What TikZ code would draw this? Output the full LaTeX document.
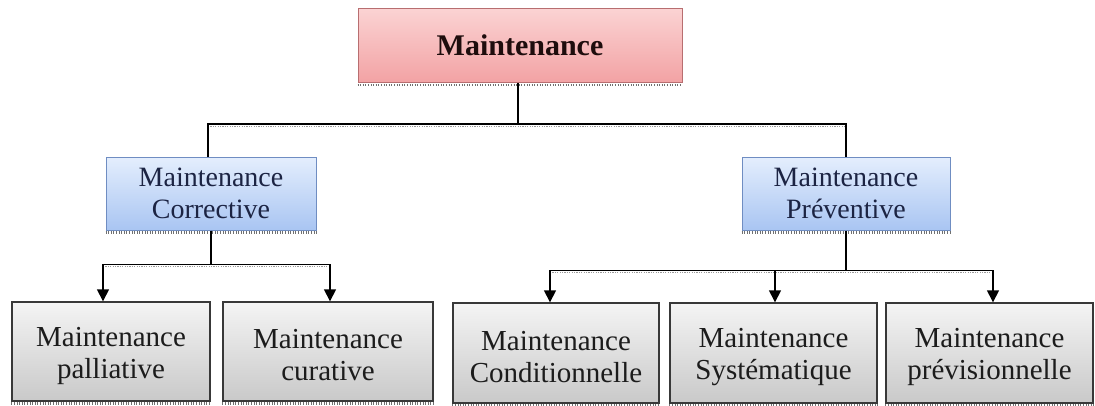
\documentclass[tikz,border=0pt]{standalone}
\usepackage{fontspec}
\setmainfont{Liberation Serif}
\usetikzlibrary{arrows.meta,calc}

\definecolor{pinktop}{HTML}{FBD3D3}
\definecolor{pinkbot}{HTML}{F2A2A4}
\definecolor{pinkline}{HTML}{B86E70}
\definecolor{bluetop}{HTML}{E4EEFD}
\definecolor{bluebot}{HTML}{A9C5F2}
\definecolor{blueline}{HTML}{6F8DC2}
\definecolor{greytop}{HTML}{F4F4F4}
\definecolor{greybot}{HTML}{C9C9C9}
\definecolor{greyline}{HTML}{383838}
\definecolor{inkred}{HTML}{1E0D0D}
\definecolor{inkblue}{HTML}{1C2443}
\definecolor{inkgrey}{HTML}{1C1C1C}
\definecolor{shade}{HTML}{707070}

\tikzset{
  boxtext/.style={align=center, inner sep=0pt, font=\fontsize{28}{32}\selectfont},
  rootbox/.style={boxtext, draw=pinkline, line width=1pt, top color=pinktop,
    bottom color=pinkbot, text=inkred, font=\fontsize{30}{34}\selectfont\bfseries},
  midbox/.style={boxtext, draw=blueline, line width=1pt, top color=bluetop,
    bottom color=bluebot, text=inkblue},
  leafbox/.style={boxtext, draw=greyline, line width=1.4pt, top color=greytop,
    bottom color=greybot, text=inkgrey, font=\fontsize{29}{32}\selectfont},
  conn/.style={draw=black, line width=1.5pt},
  connshadow/.style={draw=shade!70, line width=1.6pt, dash pattern=on 1.2pt off 1.2pt},
  tip/.style={-{Triangle[width=12pt,length=12pt]}},
  dropshadow/.style={draw=shade, line width=2.6pt, dash pattern=on 1pt off 1.6pt}
}

\begin{document}
\begin{tikzpicture}[x=1pt,y=-1pt]
  \useasboundingbox (0,0) rectangle (1095,405);

  % boxes
  \node[rootbox, minimum width=324pt, minimum height=74pt] (root) at (520,45.5) {Maintenance};
  \node[midbox, minimum width=210pt, minimum height=73pt] (corr) at (211,193.5) {Maintenance\\Corrective};
  \node[midbox, minimum width=208pt, minimum height=73pt] (prev) at (846,193.5) {Maintenance\\Préventive};

  \node[leafbox, minimum width=198pt, minimum height=99pt] (pall) at (111,351.5) {};
  \node[leafbox, minimum width=210pt, minimum height=99pt] (cura) at (328,351.5) {};
  \node[leafbox, minimum width=206pt, minimum height=100pt] (cond) at (556,353) {};
  \node[leafbox, minimum width=207pt, minimum height=100pt] (syst) at (773.5,353) {};
  \node[leafbox, minimum width=207pt, minimum height=100pt] (prvi) at (989.5,353) {};

  % leaf labels, set a little below the box centres
  \node[boxtext, text=inkgrey, font=\fontsize{29}{32}\selectfont] (tpall) at ([yshift=-4pt]pall.center) {Maintenance\\palliative};
  \node[boxtext, text=inkgrey, font=\fontsize{29}{32}\selectfont] (tcura) at ([yshift=-4pt]cura.center) {Maintenance\\curative};
  \node[boxtext, text=inkgrey, font=\fontsize{29}{32}\selectfont] (tcond) at ([yshift=-4pt]cond.center) {Maintenance\\Conditionnelle};
  \node[boxtext, text=inkgrey, font=\fontsize{29}{32}\selectfont] (tsyst) at ([yshift=-4pt]syst.center) {Maintenance\\Systématique};
  \node[boxtext, text=inkgrey, font=\fontsize{29}{32}\selectfont] (tprvi) at ([yshift=-4pt]prvi.center) {Maintenance\\prévisionnelle};

  % hatched shadows under the boxes
  \foreach \n in {root,corr,prev,pall,cura,cond,syst,prvi}{
    \draw[dropshadow] ([yshift=-2pt]\n.south west) -- ([yshift=-2pt]\n.south east);
  }

  % junction points
  \coordinate (jtop) at ($(root.south)+(-2,41)$);
  \coordinate (jl) at ($(corr.south)+(0,34)$);
  \coordinate (jr) at ($(prev.south)+(0,40)$);

  % connector shadows
  \draw[connshadow] ([yshift=-3pt]$(corr.north)+(-3,-33)$) -- ([yshift=-3pt]$(prev.north)+(0,-33)$);
  \draw[connshadow] ([yshift=-3pt]$(pall.north)+(-8,-38)$) -- ([yshift=-3pt]$(cura.north)+(2,-38)$);
  \draw[connshadow] ([yshift=-3pt]$(cond.north)+(-6,-33)$) -- ([yshift=-3pt]$(prvi.north)+(3.5,-33)$);

  % root to first level
  \draw[conn] (root.south -| jtop) -- (jtop);
  \draw[conn] (jtop) -| ([xshift=-3pt]corr.north);
  \draw[conn] (jtop) -| (prev.north);

  % corrective branch
  \draw[conn] (corr.south) -- (jl);
  \draw[conn,tip] (jl) -| ([xshift=-8pt]pall.north);
  \draw[conn,tip] (jl) -| ([xshift=2pt]cura.north);

  % preventive branch
  \draw[conn] (prev.south) -- (jr);
  \draw[conn,tip] (jr) -| ([xshift=-6pt]cond.north);
  \draw[conn,tip] (jr) -| ([xshift=1.5pt]syst.north);
  \draw[conn,tip] (jr) -| ([xshift=3.5pt]prvi.north);
\end{tikzpicture}
\end{document}
